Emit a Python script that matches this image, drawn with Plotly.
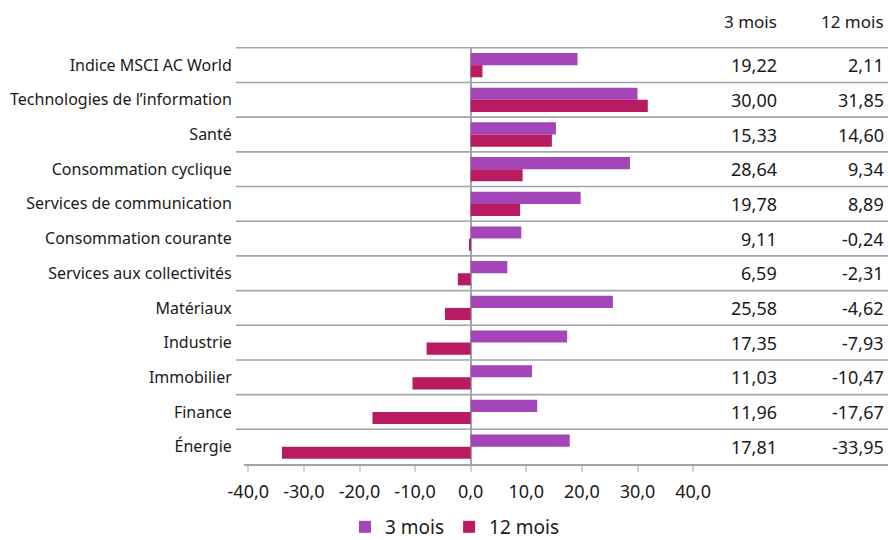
import plotly.graph_objects as go

categories = ["Indice MSCI AC World", "Technologies de l’information", "Santé",
              "Consommation cyclique", "Services de communication", "Consommation courante",
              "Services aux collectivités", "Matériaux", "Industrie", "Immobilier",
              "Finance", "Énergie"]
m3 = [19.22, 30.00, 15.33, 28.64, 19.78, 9.11, 6.59, 25.58, 17.35, 11.03, 11.96, 17.81]
m12 = [2.11, 31.85, 14.60, 9.34, 8.89, -0.24, -2.31, -4.62, -7.93, -10.47, -17.67, -33.95]
series_names = ["3 mois", "12 mois"]
tick_vals = [-40, -30, -20, -10, 0, 10, 20, 30, 40]
tick_text = ["-40,0", "-30,0", "-20,0", "-10,0", "0,0", "10,0", "20,0", "30,0", "40,0"]

PURPLE = "#A546B8"
CRIMSON = "#B81B62"
GRID = "#A0A5AB"
TXT = "#1a1a1a"
FONT = "Noto Sans"

def fr(v):
    return f"{v:.2f}".replace(".", ",")

fig = go.Figure()
fig.add_trace(go.Bar(y=categories, x=m3, orientation="h", name=series_names[0],
                     marker=dict(color=PURPLE, line=dict(width=0))))
fig.add_trace(go.Bar(y=categories, x=m12, orientation="h", name=series_names[1],
                     marker=dict(color=CRIMSON, line=dict(width=0))))

W, H = 888, 540
ml, mr, mt, mb = 244, 0, 47, 76
pw = W - ml - mr
ph = H - mt - mb

shapes = []
n = len(categories)
for i in range(n):
    yb = i - 0.5
    shapes.append(dict(type="line", xref="paper", yref="y", x0=(236 - ml) / pw, x1=1,
                       y0=yb, y1=yb, line=dict(color=GRID, width=1.6), layer="below"))

annotations = []
col_x = [(779 - ml) / pw, (886 - ml) / pw]
for j, name in enumerate(series_names):
    annotations.append(dict(text=name, xref="paper", yref="paper", x=col_x[j],
                            y=(mt + ph - 22) / ph, xanchor="right", yanchor="middle",
                            showarrow=False, font=dict(family=FONT, size=17, color=TXT)))
for i, c in enumerate(categories):
    for j, vals in enumerate([m3, m12]):
        annotations.append(dict(text=fr(vals[i]), xref="paper", yref="y", x=col_x[j], y=c,
                                xanchor="right", yanchor="middle", showarrow=False,
                                font=dict(family=FONT, size=18, color=TXT)))

fig.update_layout(
    width=W, height=H,
    margin=dict(l=ml, r=mr, t=mt, b=mb, pad=0, autoexpand=False),
    paper_bgcolor="white", plot_bgcolor="white",
    barmode="group", bargap=0.3, bargroupgap=0,
    font=dict(family=FONT, size=16, color=TXT),
    showlegend=True,
    legend=dict(orientation="h", x=(455 - ml) / pw, xanchor="center",
                y=-(527 - mt - ph) / ph, yanchor="middle",
                font=dict(family=FONT, size=19, color=TXT),
                itemwidth=30, traceorder="normal"),
    shapes=shapes, annotations=annotations,
)
fig.update_xaxes(range=[(ml - 470.7) / 5.56, (W - 470.7) / 5.56],
                 tickvals=tick_vals, ticktext=tick_text,
                 tickfont=dict(family=FONT, size=18, color=TXT),
                 ticklabelstandoff=5,
                 showgrid=False, zeroline=True, zerolinecolor=GRID, zerolinewidth=1.6,
                 showline=True, linecolor=GRID, linewidth=1.6,
                 ticks="outside", ticklen=6, tickcolor="#D0D3D6", tickwidth=1.5)
fig.update_yaxes(autorange="reversed", showgrid=False, zeroline=False, showline=False,
                 ticks="outside", ticklen=8, tickcolor="rgba(0,0,0,0)",
                 tickfont=dict(family=FONT, size=16, color=TXT))

fig.write_html("out.html")
